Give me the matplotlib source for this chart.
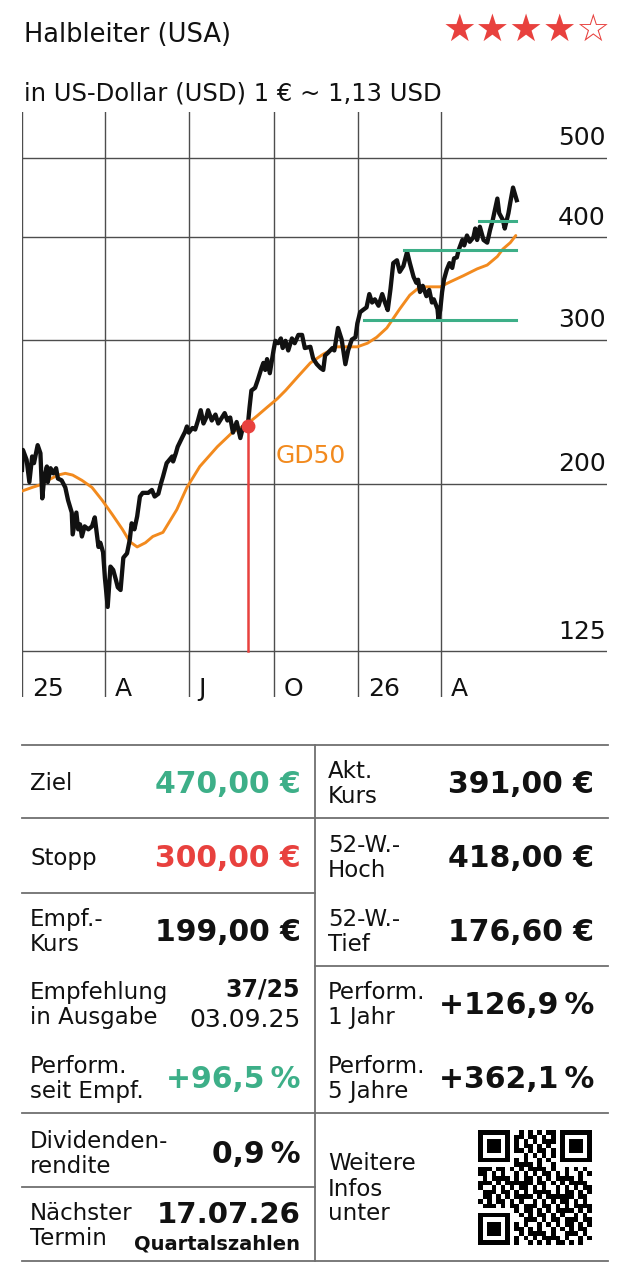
import matplotlib
matplotlib.use("Agg")
import matplotlib.pyplot as plt
import numpy as np
import pandas as pd

plt.rcParams['font.family'] = ['DejaVu Sans']

# --- data ---
title = "Halbleiter (USA)"
subtitle = "in US-Dollar (USD) 1 € ~ 1,13 USD"
stars = "★★★★☆"

start = pd.Timestamp("2025-01-01")

# price in USD, days counted from 01.01.2025
price_day = [0, 1, 5, 8, 11, 13, 17, 20, 22, 24, 27, 28, 31, 34, 37, 39, 43, 47, 50, 54,
             55, 59, 61, 63, 65, 68, 72, 76, 79, 83, 85, 88, 90, 93, 96, 99, 102, 104, 107, 110,
             114, 117, 119, 122, 125, 128, 131, 137, 141, 144, 148, 151, 153, 157, 160, 163, 164, 167, 169, 174,
             177, 179, 181, 185, 188, 191, 194, 197, 200, 202, 206, 210, 213, 217, 220, 223, 226, 229, 233, 237,
             240, 245, 247, 249, 253, 256, 260, 262, 264, 266, 269, 273, 275, 278, 281, 283, 286, 289, 293, 296,
             300, 304, 307, 313, 316, 320, 324, 327, 329, 332, 337, 339, 343, 347, 351, 354, 358, 362, 364, 367,
             370, 374, 377, 380, 383, 387, 391, 394, 397, 400, 403, 407, 410, 414, 418, 421, 425, 428, 430, 432,
             435, 439, 442, 445, 447, 451, 452, 454, 456, 458, 461, 464, 467, 469, 472, 474, 478, 480, 483, 486,
             490, 492, 494, 497, 501, 505, 508, 511, 516, 518, 522, 524, 528, 530, 533, 535, 537]
price_usd = [208, 220, 214, 201, 216, 212, 223, 218, 192, 203, 210, 201, 209, 206, 209, 203, 202, 198, 191, 184.5,
             173.5, 184.5, 176, 178.5, 172.5, 177.5, 176, 177.5, 182, 167.5, 169.5, 165, 153.5, 141.5, 158.5, 157, 152.6, 149.5, 148.4, 162.5,
             164.5, 171, 179, 176, 182.5, 193, 195, 195, 196.6, 193, 194.5, 200.5, 204, 212, 214, 216, 213, 218, 222, 228,
             231.5, 235, 231, 234, 233, 239, 246, 237, 241, 246, 239, 243, 237, 241, 244, 239, 241, 231, 238, 227.5,
             235, 235, 248, 260, 262, 268, 277, 281, 275.5, 284, 273, 291, 299, 297, 301, 293, 299, 291, 301, 297,
             304, 304, 293, 294, 284.5, 280, 277, 275.5, 287, 289, 293, 291, 310, 300, 280, 291, 300, 302, 314, 324,
             326, 328.5, 341, 333, 336, 330, 341, 333, 326, 346, 372, 375, 363, 369, 384, 372, 358, 352, 355, 343,
             349, 339, 345, 333, 336, 327, 318, 326, 343, 355, 365, 372, 367, 377, 378, 386, 397, 391, 402, 395,
             400, 410, 397, 412, 397, 394, 408, 420, 446, 428, 420, 410, 428, 441, 460, 452, 444]

# 50-day average (GD50)
gd50_day = [0, 11, 20, 28, 39, 47, 55, 65, 76, 87, 98, 109, 117, 125, 134, 142, 153, 168, 179, 193,
            212, 229, 244, 255, 266, 277, 286, 299, 313, 327, 342, 353, 364, 375, 385, 396, 410, 421, 432, 443,
            454, 465, 479, 494, 505, 516, 522, 530, 536]
gd50_usd = [196, 198, 199.5, 202, 205, 206, 205, 202, 198, 191, 183.5, 176, 170, 167.5, 169.5, 172.5, 174.5, 186, 198, 210,
            222, 231.5, 236.5, 242, 248, 254, 260, 270, 281, 288, 294, 294, 294, 297, 302, 310, 327, 340, 348, 348,
            348, 353, 359, 366, 370, 379, 387, 394, 402]

level_usd = [317, 386, 419]
level_from_day = [371, 415, 496]
level_to_day = 536

rec_day = 245      # Empfehlung 03.09.25
rec_usd = 235

y_ticks = [125, 200, 300, 400, 500]
quarter_starts = ["2025-01-01", "2025-04-01", "2025-07-01", "2025-10-01", "2026-01-01", "2026-04-01"]
quarter_labels = ["25", "A", "J", "O", "26", "A"]

labels_left = ["Ziel", "Stopp", "Empf.-\nKurs", "Empfehlung\nin Ausgabe", "Perform.\nseit Empf.",
               "Dividenden-\nrendite", "Nächster\nTermin"]
values_left = ["470,00 €", "300,00 €", "199,00 €", "", "+96,5\u2009%", "0,9\u2009%", ""]
labels_right = ["Akt.\nKurs", "52-W.-\nHoch", "52-W.-\nTief", "Perform.\n1 Jahr", "Perform.\n5 Jahre",
                "Weitere\nInfos\nunter"]
values_right = ["391,00 €", "418,00 €", "176,60 €", "+126,9\u2009%", "+362,1\u2009%", ""]
issue = "37/25"
issue_date = "03.09.25"
next_date = "17.07.26"
next_event = "Quartalszahlen"

# --- styles ---
BLACK = "#111111"
GRID = "#4d4d4d"
ORANGE = "#f28a1e"
RED = "#e8413e"
GREEN = "#3daf88"
LINE = "#707070"

W, H = 640, 1280
fig = plt.figure(figsize=(6.4, 12.8), dpi=100)

# overlay in pixel units for header and table
ov = fig.add_axes([0, 0, 1, 1])
ov.set_xlim(0, W)
ov.set_ylim(H, 0)
ov.axis('off')

ov.text(24, 42, title, fontsize=18.5, va='baseline', ha='left', color=BLACK)
ov.text(611, 31, stars, fontsize=27, va='center', ha='right', color=RED)
ov.text(24, 100, subtitle, fontsize=17.5, va='baseline', ha='left', color=BLACK)

# chart
ax = fig.add_axes([22 / W, 1 - 697 / H, (607 - 22) / W, (697 - 112) / H])
ax.set_yscale('log')
ax.set_ylim(109.85, 568.9)
ax.set_xlim(start, start + pd.Timedelta(days=635))
ax.axis('off')

for v in y_ticks:
    ax.axhline(v, color=GRID, lw=1.0, zorder=1)
    ax.annotate(str(v), xy=(1, v), xycoords=('axes fraction', 'data'), xytext=(-1, 9),
                textcoords='offset points', ha='right', va='baseline', fontsize=18, color=BLACK)
for d, lab in zip(quarter_starts, quarter_labels):
    ax.axvline(pd.Timestamp(d), color=GRID, lw=1.0, zorder=1)
    ax.annotate(lab, xy=(pd.Timestamp(d), 0), xycoords=('data', 'axes fraction'), xytext=(7, 1),
                textcoords='offset points', ha='left', va='baseline', fontsize=18, color=BLACK)

to_date = lambda days: start + pd.to_timedelta(np.asarray(days), unit='D')

ax.plot(to_date(gd50_day), gd50_usd, color=ORANGE, lw=2.1, zorder=2, solid_capstyle='round')
ax.plot(to_date(price_day), price_usd, color=BLACK, lw=3.1, zorder=3, solid_joinstyle='round')
for lv, d0 in zip(level_usd, level_from_day):
    ax.plot(to_date([d0, level_to_day]), [lv, lv], color=GREEN, lw=2.2, zorder=4)

rec_date = to_date([rec_day])[0]
ax.plot([rec_date, rec_date], [y_ticks[0], rec_usd], color=RED, lw=1.8, zorder=4)
ax.plot([rec_date], [rec_usd], 'o', color=RED, ms=9, zorder=5)
ax.text(to_date([275])[0], 216, "GD50", color=ORANGE, fontsize=18, va='center', ha='left')

# table grid
hlines = [(745, 22, 608), (818, 22, 608), (893, 22, 315), (966, 315, 608),
          (1113, 22, 608), (1187, 22, 315), (1261, 22, 608)]
for y, x0, x1 in hlines:
    ov.plot([x0, x1], [y, y], color=LINE, lw=1.3)
ov.plot([315, 315], [745, 1261], color=LINE, lw=1.3)


def label(x, yc, txt, size=16.5):
    lines = txt.split("\n")
    for i, ln in enumerate(lines):
        y = yc + (i - (len(lines) - 1) / 2) * 25
        ov.text(x, y + 8.5, ln, fontsize=size, ha='left', va='baseline', color=BLACK)


def value(x, yc, txt, color=BLACK, size=21.5):
    ov.text(x, yc + 11, txt, fontsize=size, fontweight='bold', ha='right', va='baseline', color=color)


rows_left = [782, 856, 930, 1003, 1077, 1152, 1224]
colors_left = [GREEN, RED, BLACK, BLACK, GREEN, BLACK, BLACK]
for yc, lab, val, col in zip(rows_left, labels_left, values_left, colors_left):
    label(30, yc, lab)
    if val:
        value(301, yc, val, col)
value(301, 1212, next_date, size=21)
ov.text(300, 996.5, issue, fontsize=17, fontweight='bold', ha='right', va='baseline', color=BLACK)
ov.text(301, 1027, issue_date, fontsize=18, ha='right', va='baseline', color=BLACK)
ov.text(300, 1249, next_event, fontsize=14, fontweight='bold', ha='right', va='baseline', color=BLACK)

rows_right = [782, 856, 930, 1003, 1077, 1187]
for yc, lab, val in zip(rows_right, labels_right, values_right):
    label(328, yc, lab)
    if val:
        value(594, yc, val)

# QR code (decorative)
n = 25
r, c = np.indices((n, n))
qr = (((r * c) % 3 + (r + c) % 2 + (r * 5 + c * 3) % 7) > 3).astype(int)
for r0, c0 in [(0, 0), (0, n - 7), (n - 7, 0)]:
    qr[max(r0 - 1, 0):r0 + 8, max(c0 - 1, 0):c0 + 8] = 0
    qr[r0:r0 + 7, c0:c0 + 7] = 1
    qr[r0 + 1:r0 + 6, c0 + 1:c0 + 6] = 0
    qr[r0 + 2:r0 + 5, c0 + 2:c0 + 5] = 1
ov.imshow(qr, extent=(478, 592, 1245, 1130), cmap='gray_r', interpolation='nearest', aspect='auto')
ov.set_xlim(0, W)
ov.set_ylim(H, 0)

fig.savefig("out.png", dpi=100, facecolor='white')
